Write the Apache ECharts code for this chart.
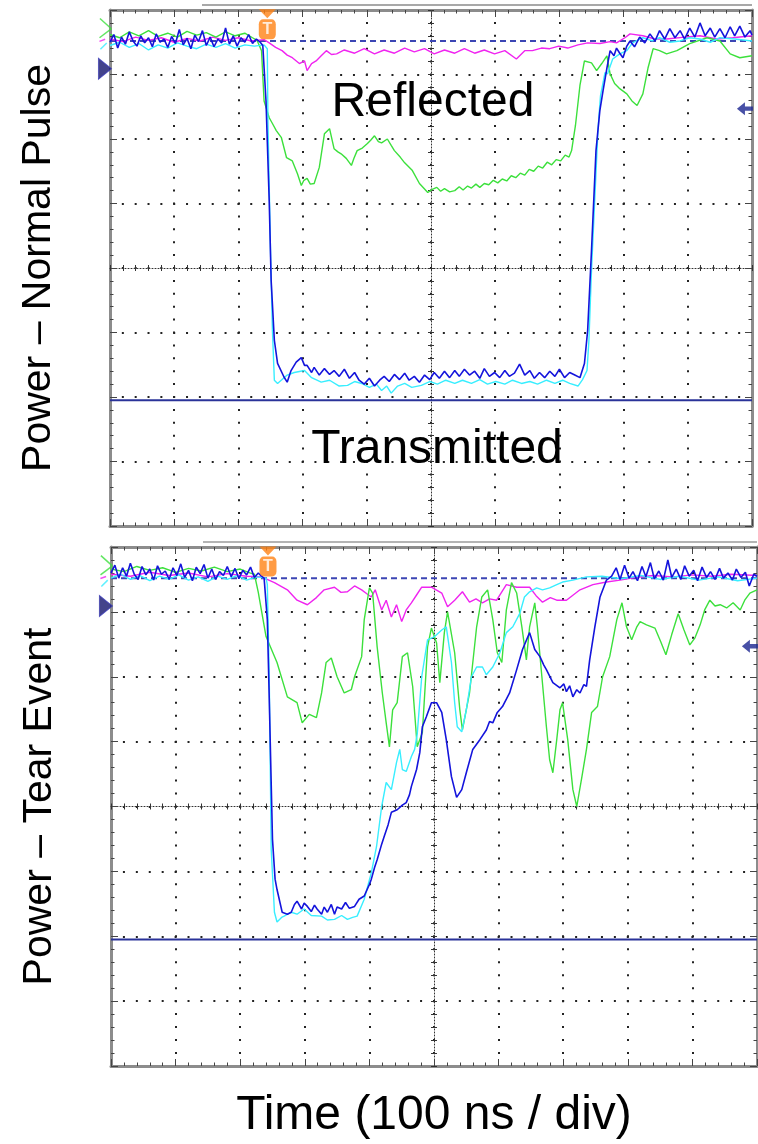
<!DOCTYPE html>
<html>
<head>
<meta charset="utf-8">
<script src="https://cdn.jsdelivr.net/npm/echarts@6/dist/echarts.min.js"></script>
<style>
  html, body { margin: 0; padding: 0; background: #fff; }
  #chart { width: 758px; height: 1144px; }
</style>
</head>
<body>
<div id="chart"></div>
<script>
// x: screen divisions 0..10 (100 ns / div), y: divisions -4..4 from screen centre

const panelTitles = ["Power – Normal Pulse", "Power – Tear Event"];
const timeTitle = "Time (100 ns / div)";
const labelsTop = ["Reflected", "Transmitted"];

const refDashed = [3.52, 3.52];   // dashed reference level per panel
const refSolid = [-2.05, -2.05];  // solid reference level per panel
const triggerX = [2.45, 2.43];

// ---- top panel: normal pulse ----
const topGreen = [
  [0.00,3.62],[0.15,3.57],[0.30,3.66],[0.45,3.60],[0.60,3.68],[0.75,3.59],[0.90,3.64],[1.05,3.58],[1.20,3.67],[1.35,3.61],
  [1.50,3.65],[1.65,3.58],[1.80,3.66],[1.95,3.60],[2.10,3.64],[2.22,3.57],[2.29,3.53],[2.36,3.37],[2.40,2.59],[2.48,2.33],
  [2.53,2.24],[2.59,2.13],[2.67,2.02],[2.75,1.71],[2.84,1.66],[2.92,1.46],[2.98,1.28],[3.02,1.36],[3.07,1.39],[3.12,1.30],
  [3.18,1.31],[3.26,1.56],[3.34,2.08],[3.42,2.16],[3.49,1.85],[3.55,1.80],[3.60,1.77],[3.68,1.70],[3.76,1.59],[3.80,1.70],
  [3.85,1.82],[3.93,1.86],[4.01,1.93],[4.06,1.98],[4.12,2.05],[4.18,1.96],[4.23,1.94],[4.32,2.00],[4.38,1.90],[4.43,1.82],
  [4.52,1.72],[4.59,1.63],[4.71,1.51],[4.82,1.31],[4.95,1.17],[5.02,1.22],[5.09,1.25],[5.15,1.19],[5.21,1.23],[5.29,1.18],
  [5.37,1.20],[5.44,1.26],[5.50,1.21],[5.57,1.27],[5.63,1.24],[5.70,1.30],[5.76,1.25],[5.83,1.31],[5.90,1.29],[5.97,1.36],
  [6.04,1.32],[6.11,1.38],[6.18,1.35],[6.25,1.43],[6.32,1.40],[6.39,1.47],[6.46,1.44],[6.53,1.53],[6.60,1.50],[6.67,1.58],
  [6.74,1.55],[6.81,1.64],[6.88,1.60],[6.95,1.68],[7.02,1.66],[7.09,1.75],[7.15,1.72],[7.19,1.82],[7.25,2.21],[7.32,2.83],
  [7.39,3.21],[7.50,3.18],[7.58,3.06],[7.66,3.17],[7.74,3.29],[7.79,3.01],[7.86,2.86],[7.94,2.78],[8.05,2.70],[8.13,2.59],
  [8.21,2.52],[8.30,2.70],[8.38,3.10],[8.46,3.40],[8.56,3.37],[8.67,3.32],[8.83,3.37],[9.03,3.48],[9.30,3.57],[9.50,3.52],
  [9.66,3.32],[9.81,3.26],[10.00,3.29]
];
const topMagenta = [
  [0.00,3.55],[0.20,3.51],[0.40,3.58],[0.60,3.53],[0.80,3.57],[1.00,3.50],[1.20,3.56],[1.40,3.52],[1.60,3.58],[1.80,3.53],
  [2.00,3.57],[2.20,3.52],[2.40,3.54],[2.48,3.49],[2.58,3.42],[2.68,3.37],[2.76,3.30],[2.84,3.26],[2.95,3.17],[3.03,3.21],
  [3.07,3.06],[3.14,3.17],[3.21,3.21],[3.29,3.29],[3.37,3.37],[3.45,3.31],[3.53,3.32],[3.65,3.38],[3.81,3.33],[3.96,3.40],
  [4.12,3.32],[4.27,3.38],[4.43,3.33],[4.59,3.41],[4.74,3.35],[4.90,3.40],[5.05,3.32],[5.21,3.38],[5.37,3.33],[5.52,3.40],
  [5.68,3.33],[5.83,3.38],[5.99,3.32],[6.15,3.37],[6.33,3.24],[6.46,3.37],[6.58,3.37],[6.72,3.41],[6.85,3.40],[6.99,3.44],
  [7.13,3.41],[7.29,3.46],[7.44,3.49],[7.63,3.48],[7.79,3.51],[7.89,3.49],[8.02,3.57],[8.10,3.63],[8.30,3.60],[8.49,3.55],
  [8.67,3.55],[8.95,3.58],[9.19,3.60],[9.45,3.55],[9.70,3.57],[10.00,3.60]
];
const topCyan = [
  [0.00,3.45],[0.15,3.50],[0.30,3.42],[0.45,3.48],[0.60,3.38],[0.75,3.46],[0.90,3.41],[1.05,3.49],[1.20,3.44],[1.35,3.40],
  [1.50,3.47],[1.65,3.42],[1.80,3.48],[1.95,3.41],[2.10,3.46],[2.25,3.44],[2.40,3.46],[2.45,3.40],[2.46,2.28],[2.50,0.27],
  [2.53,-0.97],[2.56,-1.74],[2.61,-1.79],[2.68,-1.73],[2.76,-1.66],[2.87,-1.62],[3.03,-1.59],[3.14,-1.70],[3.29,-1.77],[3.42,-1.74],
  [3.57,-1.83],[3.70,-1.82],[3.81,-1.76],[3.92,-1.79],[4.04,-1.85],[4.15,-1.80],[4.23,-1.90],[4.31,-1.83],[4.38,-1.94],[4.48,-1.83],
  [4.59,-1.79],[4.70,-1.85],[4.85,-1.82],[4.98,-1.76],[5.10,-1.80],[5.23,-1.74],[5.37,-1.79],[5.49,-1.74],[5.63,-1.79],[5.76,-1.73],
  [5.88,-1.80],[6.01,-1.76],[6.15,-1.80],[6.27,-1.74],[6.41,-1.79],[6.54,-1.76],[6.66,-1.80],[6.80,-1.74],[6.93,-1.79],[7.05,-1.74],
  [7.16,-1.79],[7.29,-1.83],[7.36,-1.73],[7.43,-1.59],[7.46,-1.12],[7.50,-0.04],[7.55,1.04],[7.60,2.13],[7.64,2.67],[7.71,3.03],
  [7.75,3.01],[7.83,3.24],[7.94,3.32],[8.05,3.37],[8.14,3.49],[8.30,3.57],[8.45,3.52],[8.56,3.57],[8.72,3.50],[8.88,3.52],
  [9.03,3.57],[9.19,3.55],[9.35,3.50],[9.50,3.57],[9.73,3.55],[10.00,3.52]
];
const topBlue = [
  [0.00,3.50],[0.06,3.62],[0.12,3.41],[0.18,3.58],[0.24,3.47],[0.30,3.66],[0.36,3.52],[0.42,3.44],[0.48,3.60],[0.54,3.49],
  [0.60,3.57],[0.66,3.43],[0.72,3.63],[0.78,3.50],[0.84,3.55],[0.90,3.42],[0.96,3.59],[1.02,3.48],[1.08,3.70],[1.14,3.46],
  [1.20,3.56],[1.26,3.40],[1.32,3.61],[1.38,3.51],[1.44,3.68],[1.50,3.45],[1.56,3.58],[1.62,3.43],[1.68,3.55],[1.74,3.49],
  [1.80,3.72],[1.86,3.47],[1.92,3.60],[1.98,3.44],[2.04,3.57],[2.10,3.50],[2.16,3.62],[2.22,3.48],[2.28,3.55],[2.34,3.50],
  [2.38,3.45],[2.43,2.59],[2.48,1.04],[2.51,-0.19],[2.56,-1.12],[2.61,-1.48],[2.64,-1.48],[2.71,-1.69],[2.76,-1.77],[2.82,-1.59],
  [2.90,-1.46],[2.98,-1.39],[3.03,-1.51],[3.07,-1.51],[3.14,-1.62],[3.18,-1.54],[3.26,-1.66],[3.34,-1.56],[3.42,-1.65],[3.49,-1.59],
  [3.57,-1.68],[3.65,-1.57],[3.73,-1.71],[3.81,-1.62],[3.88,-1.74],[3.96,-1.80],[4.04,-1.71],[4.12,-1.83],[4.20,-1.74],[4.27,-1.68],
  [4.35,-1.76],[4.43,-1.65],[4.51,-1.73],[4.59,-1.63],[4.66,-1.74],[4.74,-1.68],[4.82,-1.77],[4.90,-1.66],[4.98,-1.73],[5.05,-1.62],
  [5.13,-1.71],[5.21,-1.60],[5.29,-1.70],[5.37,-1.59],[5.44,-1.68],[5.52,-1.57],[5.60,-1.66],[5.68,-1.60],[5.76,-1.71],[5.83,-1.56],
  [5.91,-1.68],[5.99,-1.62],[6.07,-1.70],[6.15,-1.59],[6.22,-1.68],[6.30,-1.63],[6.38,-1.49],[6.46,-1.66],[6.54,-1.59],[6.61,-1.71],
  [6.69,-1.62],[6.77,-1.70],[6.85,-1.60],[6.93,-1.68],[7.00,-1.57],[7.08,-1.70],[7.16,-1.62],[7.24,-1.66],[7.32,-1.70],[7.39,-1.48],
  [7.44,-0.97],[7.50,0.27],[7.57,1.82],[7.63,2.44],[7.68,2.75],[7.74,3.10],[7.79,3.37],[7.85,3.29],[7.89,3.41],[7.94,3.33],
  [7.99,3.26],[8.05,3.44],[8.10,3.52],[8.17,3.43],[8.25,3.58],[8.33,3.49],[8.41,3.63],[8.49,3.52],[8.56,3.68],[8.64,3.55],
  [8.72,3.71],[8.80,3.57],[8.88,3.68],[8.95,3.55],[9.03,3.72],[9.11,3.58],[9.19,3.80],[9.27,3.60],[9.35,3.72],[9.42,3.58],
  [9.50,3.71],[9.58,3.57],[9.66,3.74],[9.73,3.60],[9.81,3.75],[9.89,3.58],[9.97,3.68],[10.00,3.61]
];

// ---- bottom panel: tear event ----
const botGreen = [
  [0.00,3.66],[0.20,3.62],[0.40,3.70],[0.60,3.64],[0.80,3.68],[1.00,3.61],[1.20,3.67],[1.40,3.63],[1.60,3.69],[1.80,3.62],
  [2.00,3.66],[2.15,3.60],[2.22,3.58],[2.28,3.30],[2.40,2.62],[2.57,2.22],[2.73,1.69],[2.88,1.60],[2.96,1.29],[3.07,1.42],
  [3.18,1.37],[3.26,1.75],[3.33,2.22],[3.41,2.29],[3.50,2.00],[3.61,1.75],[3.72,1.80],[3.77,2.00],[3.88,2.31],[3.92,2.88],
  [4.00,3.37],[4.05,3.29],[4.12,2.46],[4.20,1.75],[4.26,1.29],[4.31,0.92],[4.36,1.49],[4.43,1.60],[4.51,2.31],[4.59,2.37],
  [4.67,1.85],[4.74,0.92],[4.82,1.14],[4.90,2.46],[4.96,2.75],[5.04,2.52],[5.09,1.91],[5.16,2.68],[5.21,3.00],[5.32,2.37],
  [5.40,1.49],[5.44,1.18],[5.55,1.75],[5.66,2.77],[5.74,3.23],[5.83,3.34],[5.91,2.88],[5.98,2.37],[6.05,2.22],[6.12,3.03],
  [6.20,3.45],[6.28,3.29],[6.36,2.77],[6.43,2.26],[6.48,2.77],[6.56,3.14],[6.60,2.77],[6.67,2.00],[6.74,1.23],[6.79,0.72],
  [6.84,0.52],[6.90,1.03],[6.95,1.49],[6.99,1.60],[7.07,1.03],[7.15,0.26],[7.21,0.00],[7.29,0.46],[7.36,0.88],[7.44,1.45],
  [7.53,1.54],[7.61,2.00],[7.72,2.31],[7.83,2.88],[7.91,3.14],[7.98,2.77],[8.06,2.57],[8.14,2.77],[8.19,2.85],[8.29,2.80],
  [8.42,2.75],[8.51,2.54],[8.59,2.34],[8.68,2.65],[8.78,2.97],[8.87,2.72],[8.96,2.49],[9.04,2.60],[9.12,2.80],[9.19,3.03],
  [9.27,3.18],[9.35,3.09],[9.43,3.11],[9.53,3.06],[9.63,3.14],[9.74,3.03],[9.81,3.18],[9.89,3.29],[10.00,3.34]
];
const botMagenta = [
  [0.00,3.58],[0.30,3.55],[0.60,3.61],[0.90,3.56],[1.20,3.60],[1.50,3.54],[1.80,3.59],[2.10,3.55],[2.33,3.54],[2.53,3.45],
  [2.73,3.34],[2.88,3.18],[3.04,3.11],[3.18,3.22],[3.30,3.34],[3.46,3.38],[3.56,3.30],[3.66,3.31],[3.77,3.40],[3.88,3.34],
  [3.96,3.28],[4.03,3.23],[4.09,3.34],[4.19,3.03],[4.26,3.18],[4.34,2.92],[4.42,3.11],[4.50,2.85],[4.57,3.03],[4.65,3.14],
  [4.73,3.26],[4.81,3.38],[4.96,3.38],[5.12,3.29],[5.21,3.08],[5.32,3.18],[5.44,3.31],[5.55,3.15],[5.65,3.20],[5.75,3.14],
  [5.86,3.20],[5.97,3.18],[6.12,3.42],[6.28,3.38],[6.48,3.38],[6.58,3.25],[6.68,3.15],[6.80,3.22],[6.90,3.18],[7.05,3.18],
  [7.26,3.34],[7.46,3.42],[7.67,3.46],[7.88,3.49],[8.10,3.53],[8.40,3.56],[8.70,3.54],[9.00,3.57],[9.30,3.55],[9.60,3.58],
  [10.00,3.56]
];
const botCyan = [
  [0.00,3.52],[0.15,3.58],[0.30,3.50],[0.45,3.56],[0.60,3.48],[0.75,3.55],[0.90,3.50],[1.05,3.57],[1.20,3.49],[1.35,3.54],
  [1.50,3.47],[1.65,3.55],[1.80,3.50],[1.95,3.56],[2.10,3.49],[2.25,3.54],[2.40,3.52],[2.42,3.42],[2.45,1.95],[2.48,-0.66],
  [2.53,-1.63],[2.57,-1.78],[2.64,-1.71],[2.68,-1.69],[2.79,-1.63],[2.88,-1.66],[2.99,-1.58],[3.10,-1.68],[3.26,-1.69],[3.35,-1.75],
  [3.46,-1.74],[3.57,-1.68],[3.66,-1.74],[3.74,-1.71],[3.81,-1.69],[3.92,-1.43],[4.03,-1.02],[4.11,-0.62],[4.19,0.00],[4.26,0.37],
  [4.34,0.26],[4.42,0.68],[4.47,0.88],[4.51,0.57],[4.57,0.54],[4.65,0.77],[4.70,0.88],[4.74,1.11],[4.81,2.00],[4.90,2.57],
  [5.01,2.62],[5.12,2.72],[5.19,2.77],[5.27,2.22],[5.32,1.60],[5.36,1.23],[5.43,1.15],[5.50,1.49],[5.58,2.00],[5.66,2.15],
  [5.75,2.15],[5.81,2.03],[5.91,2.15],[6.02,2.37],[6.12,2.68],[6.22,2.77],[6.33,2.98],[6.40,3.23],[6.48,3.31],[6.59,3.37],
  [6.68,3.34],[6.79,3.37],[6.90,3.42],[6.99,3.46],[7.15,3.49],[7.36,3.54],[7.60,3.55],[7.90,3.51],[8.20,3.56],[8.50,3.50],
  [8.80,3.55],[9.10,3.49],[9.40,3.54],[9.70,3.48],[10.00,3.52]
];
const botBlue = [
  [0.00,3.60],[0.06,3.72],[0.12,3.52],[0.18,3.68],[0.24,3.55],[0.30,3.75],[0.36,3.58],[0.42,3.50],[0.48,3.70],[0.54,3.57],
  [0.60,3.66],[0.66,3.49],[0.72,3.71],[0.78,3.58],[0.84,3.63],[0.90,3.50],[0.96,3.68],[1.02,3.56],[1.08,3.74],[1.14,3.53],
  [1.20,3.64],[1.26,3.48],[1.32,3.69],[1.38,3.59],[1.44,3.73],[1.50,3.52],[1.56,3.66],[1.62,3.50],[1.68,3.62],[1.74,3.56],
  [1.80,3.70],[1.86,3.54],[1.92,3.67],[1.98,3.51],[2.04,3.64],[2.10,3.57],[2.16,3.69],[2.22,3.53],[2.28,3.60],[2.33,3.55],
  [2.37,3.52],[2.42,2.88],[2.45,1.65],[2.50,-0.51],[2.54,-1.12],[2.57,-1.28],[2.65,-1.63],[2.73,-1.66],[2.79,-1.63],[2.84,-1.51],
  [2.88,-1.46],[2.95,-1.58],[2.99,-1.49],[3.04,-1.54],[3.10,-1.62],[3.15,-1.52],[3.19,-1.58],[3.26,-1.66],[3.30,-1.55],[3.35,-1.63],
  [3.41,-1.51],[3.46,-1.66],[3.50,-1.55],[3.57,-1.58],[3.63,-1.48],[3.69,-1.57],[3.77,-1.54],[3.84,-1.43],[3.92,-1.38],[4.00,-1.20],
  [4.03,-1.12],[4.08,-0.94],[4.12,-0.82],[4.19,-0.58],[4.23,-0.46],[4.29,-0.28],[4.34,-0.09],[4.43,-0.05],[4.51,0.02],[4.57,0.06],
  [4.62,0.18],[4.65,0.31],[4.73,0.57],[4.78,0.83],[4.82,1.23],[4.88,1.38],[4.96,1.60],[5.04,1.60],[5.12,1.45],[5.19,1.03],
  [5.27,0.46],[5.35,0.14],[5.43,0.26],[5.50,0.52],[5.60,0.88],[5.71,1.03],[5.81,1.18],[5.86,1.31],[5.91,1.29],[5.98,1.45],
  [6.06,1.54],[6.17,1.75],[6.28,2.11],[6.37,2.42],[6.48,2.68],[6.56,2.42],[6.64,2.31],[6.70,2.18],[6.74,2.11],[6.84,1.91],
  [6.95,1.83],[7.01,1.89],[7.05,1.77],[7.10,1.86],[7.15,1.69],[7.21,1.80],[7.26,1.75],[7.32,1.88],[7.36,1.85],[7.41,2.26],
  [7.49,2.77],[7.57,3.23],[7.67,3.49],[7.75,3.55],[7.82,3.68],[7.88,3.50],[7.95,3.72],[8.02,3.52],[8.08,3.62],[8.15,3.48],
  [8.22,3.70],[8.28,3.54],[8.35,3.76],[8.41,3.51],[8.48,3.63],[8.55,3.49],[8.62,3.80],[8.68,3.53],[8.75,3.66],[8.82,3.50],
  [8.88,3.71],[8.95,3.55],[9.02,3.64],[9.08,3.48],[9.15,3.69],[9.22,3.53],[9.28,3.62],[9.35,3.50],[9.42,3.67],[9.48,3.52],
  [9.55,3.60],[9.62,3.49],[9.68,3.66],[9.75,3.53],[9.82,3.61],[9.88,3.40],[9.95,3.58],[10.00,3.55]
];

const traces = [
  { green: topGreen, magenta: topMagenta, cyan: topCyan, blue: topBlue },
  { green: botGreen, magenta: botMagenta, cyan: botCyan, blue: botBlue }
];

const colors = { green: "#3ce03c", magenta: "#f024f0", cyan: "#38eeff", blue: "#1414dc", navy: "#2a3399", orange: "#ff8214" };

const grids = [
  { left: 110, top: 10, width: 642, height: 516 },
  { left: 111, top: 547, width: 646, height: 519 }
];

const font = "Liberation Sans";

function frameX(g, pos, split, name) {
  const minor = grids[g].height / 40;
  return {
    gridIndex: g, type: "value", min: 0, max: 10, interval: 1, position: pos,
    axisLine: { onZero: false, lineStyle: { color: "#8c8c8c", width: 3 } },
    axisTick: { inside: true, length: 7, lineStyle: { color: "#444" } },
    minorTick: { show: true, splitNumber: 5, length: 3.5, lineStyle: { color: "#444" } },
    axisLabel: { show: false },
    splitLine: { show: split, lineStyle: { color: "#222", width: 2, type: [2, minor - 2], dashOffset: 1 } },
    name: name, nameLocation: "middle", nameGap: 26,
    nameTextStyle: { fontFamily: font, fontSize: 48, color: "#000" }
  };
}
function frameY(g, pos, split, name) {
  const minor = grids[g].width / 50;
  return {
    gridIndex: g, type: "value", min: -4, max: 4, interval: 1, position: pos,
    axisLine: { onZero: false, lineStyle: { color: "#8c8c8c", width: 3 } },
    axisTick: { inside: true, length: 7, lineStyle: { color: "#444" } },
    minorTick: { show: true, splitNumber: 5, length: 3.5, lineStyle: { color: "#444" } },
    axisLabel: { show: false },
    splitLine: { show: split, lineStyle: { color: "#222", width: 2, type: [2, minor - 2], dashOffset: 1 } },
    name: name, nameLocation: "middle", nameRotate: 90, nameGap: 51,
    nameTextStyle: { fontFamily: font, fontSize: 41, color: "#000" }
  };
}
// centre cross of the graticule, ticks on both sides
function centerX(g, yIdx, inside) {
  return {
    gridIndex: g, type: "value", min: -5, max: 5, interval: 1, position: "bottom",
    axisLine: { show: inside, onZero: true, onZeroAxisIndex: yIdx, lineStyle: { color: "#333", width: 1, type: [1, 2] } },
    axisTick: { inside: inside, length: 3, lineStyle: { color: "#333" } },
    minorTick: { show: true, splitNumber: 5, length: 3, lineStyle: { color: "#333" } },
    axisLabel: { show: false }, splitLine: { show: false }
  };
}
function centerY(g, xIdx, inside) {
  return {
    gridIndex: g, type: "value", min: -4, max: 4, interval: 1, position: "left",
    axisLine: { show: inside, onZero: true, onZeroAxisIndex: xIdx, lineStyle: { color: "#333", width: 1, type: [1, 2] } },
    axisTick: { inside: inside, length: 3, lineStyle: { color: "#333" } },
    minorTick: { show: true, splitNumber: 5, length: 3, lineStyle: { color: "#333" } },
    axisLabel: { show: false }, splitLine: { show: false }
  };
}

const xAxes = [], yAxes = [], series = [];

grids.forEach(function (g, i) {
  xAxes.push(frameX(i, "bottom", true, i === 1 ? timeTitle : ""));
  xAxes.push(frameX(i, "top", false, ""));
  xAxes.push(centerX(i, i * 4, true));
  xAxes.push(centerX(i, i * 4, false));
  yAxes.push(frameY(i, "left", true, panelTitles[i]));
  yAxes.push(frameY(i, "right", false, ""));
  yAxes.push(centerY(i, i * 4 + 2, true));
  yAxes.push(centerY(i, i * 4 + 2, false));

  const ax = { xAxisIndex: i * 4, yAxisIndex: i * 4 };

  // reference levels
  series.push(Object.assign({
    type: "line", data: [[0, refDashed[i]], [10, refDashed[i]]], symbol: "none", silent: true,
    lineStyle: { color: "#3c46b4", width: 2, type: [6, 4] }, z: 2
  }, ax));
  series.push(Object.assign({
    type: "line", data: [[0, refSolid[i]], [10, refSolid[i]]], symbol: "none", silent: true,
    lineStyle: { color: colors.navy, width: 2 }, z: 2
  }, ax));

  ["magenta", "green", "cyan", "blue"].forEach(function (k) {
    series.push(Object.assign({
      type: "line", data: traces[i][k], symbol: "none", silent: true,
      lineStyle: { color: colors[k], width: k === "blue" ? 1.6 : 1.4 }, z: 3
    }, ax));
  });

  // scope markers: trigger flag, channel offset arrow, level indicator
  series.push(Object.assign({
    type: "scatter", clip: false, silent: true, z: 5,
    data: [
      { value: [triggerX[i], 3.94], symbol: "triangle", symbolSize: [17, 9], symbolRotate: 180, itemStyle: { color: colors.orange } },
      { value: [triggerX[i], 3.70], symbol: "roundRect", symbolSize: [17, 20], itemStyle: { color: colors.orange },
        label: { show: true, position: "inside", formatter: "T", color: "#fff", fontWeight: "bold", fontSize: 16, fontFamily: font } },
      { value: [-0.08, 3.09], symbol: "triangle", symbolSize: [21, 13], symbolRotate: -90,
        itemStyle: { color: "#14146e", borderColor: "#3a3ab8", borderWidth: 1 } },
      { value: [9.89, 2.47], symbol: "path://M0,6L7,0L7,4L14,4L14,8L7,8L7,12Z", symbolSize: [16, 13],
        itemStyle: { color: "#1a2490" } },
      { value: [-0.07, 3.79], symbol: "rect", symbolSize: [15, 1.5], symbolRotate: -42, itemStyle: { color: colors.green } },
      { value: [-0.07, 3.64], symbol: "rect", symbolSize: [15, 1.5], symbolRotate: 37, itemStyle: { color: colors.green } },
      { value: [-0.12, 3.53], symbol: "rect", symbolSize: [6, 1.5], symbolRotate: 20, itemStyle: { color: colors.magenta } },
      { value: [-0.10, 3.44], symbol: "rect", symbolSize: [9, 1.5], symbolRotate: 45, itemStyle: { color: colors.cyan } }
    ]
  }, ax));
});

const chart = echarts.init(document.getElementById("chart"), null, { renderer: "canvas" });

chart.setOption({
  animation: false,
  backgroundColor: "#fff",
  grid: grids.map(function (g) { return Object.assign({ outerBoundsMode: "none" }, g); }),
  xAxis: xAxes,
  yAxis: yAxes,
  graphic: [
    { type: "text", x: 433, y: 103, style: { text: labelsTop[0], font: "48px " + font, fill: "#000", textAlign: "center", textVerticalAlign: "middle" }, z: 10 },
    { type: "text", x: 437, y: 450, style: { text: labelsTop[1], font: "48px " + font, fill: "#000", textAlign: "center", textVerticalAlign: "middle" }, z: 10 },
    // window edges of the scope screenshots
    { type: "line", shape: { x1: 202, y1: 5, x2: 752, y2: 5 }, style: { stroke: "#a8a8a8", lineWidth: 2 } },
    { type: "line", shape: { x1: 203, y1: 542, x2: 757, y2: 542 }, style: { stroke: "#b4b4b4", lineWidth: 2 } }
  ],
  series: series
});
</script>
</body>
</html>
